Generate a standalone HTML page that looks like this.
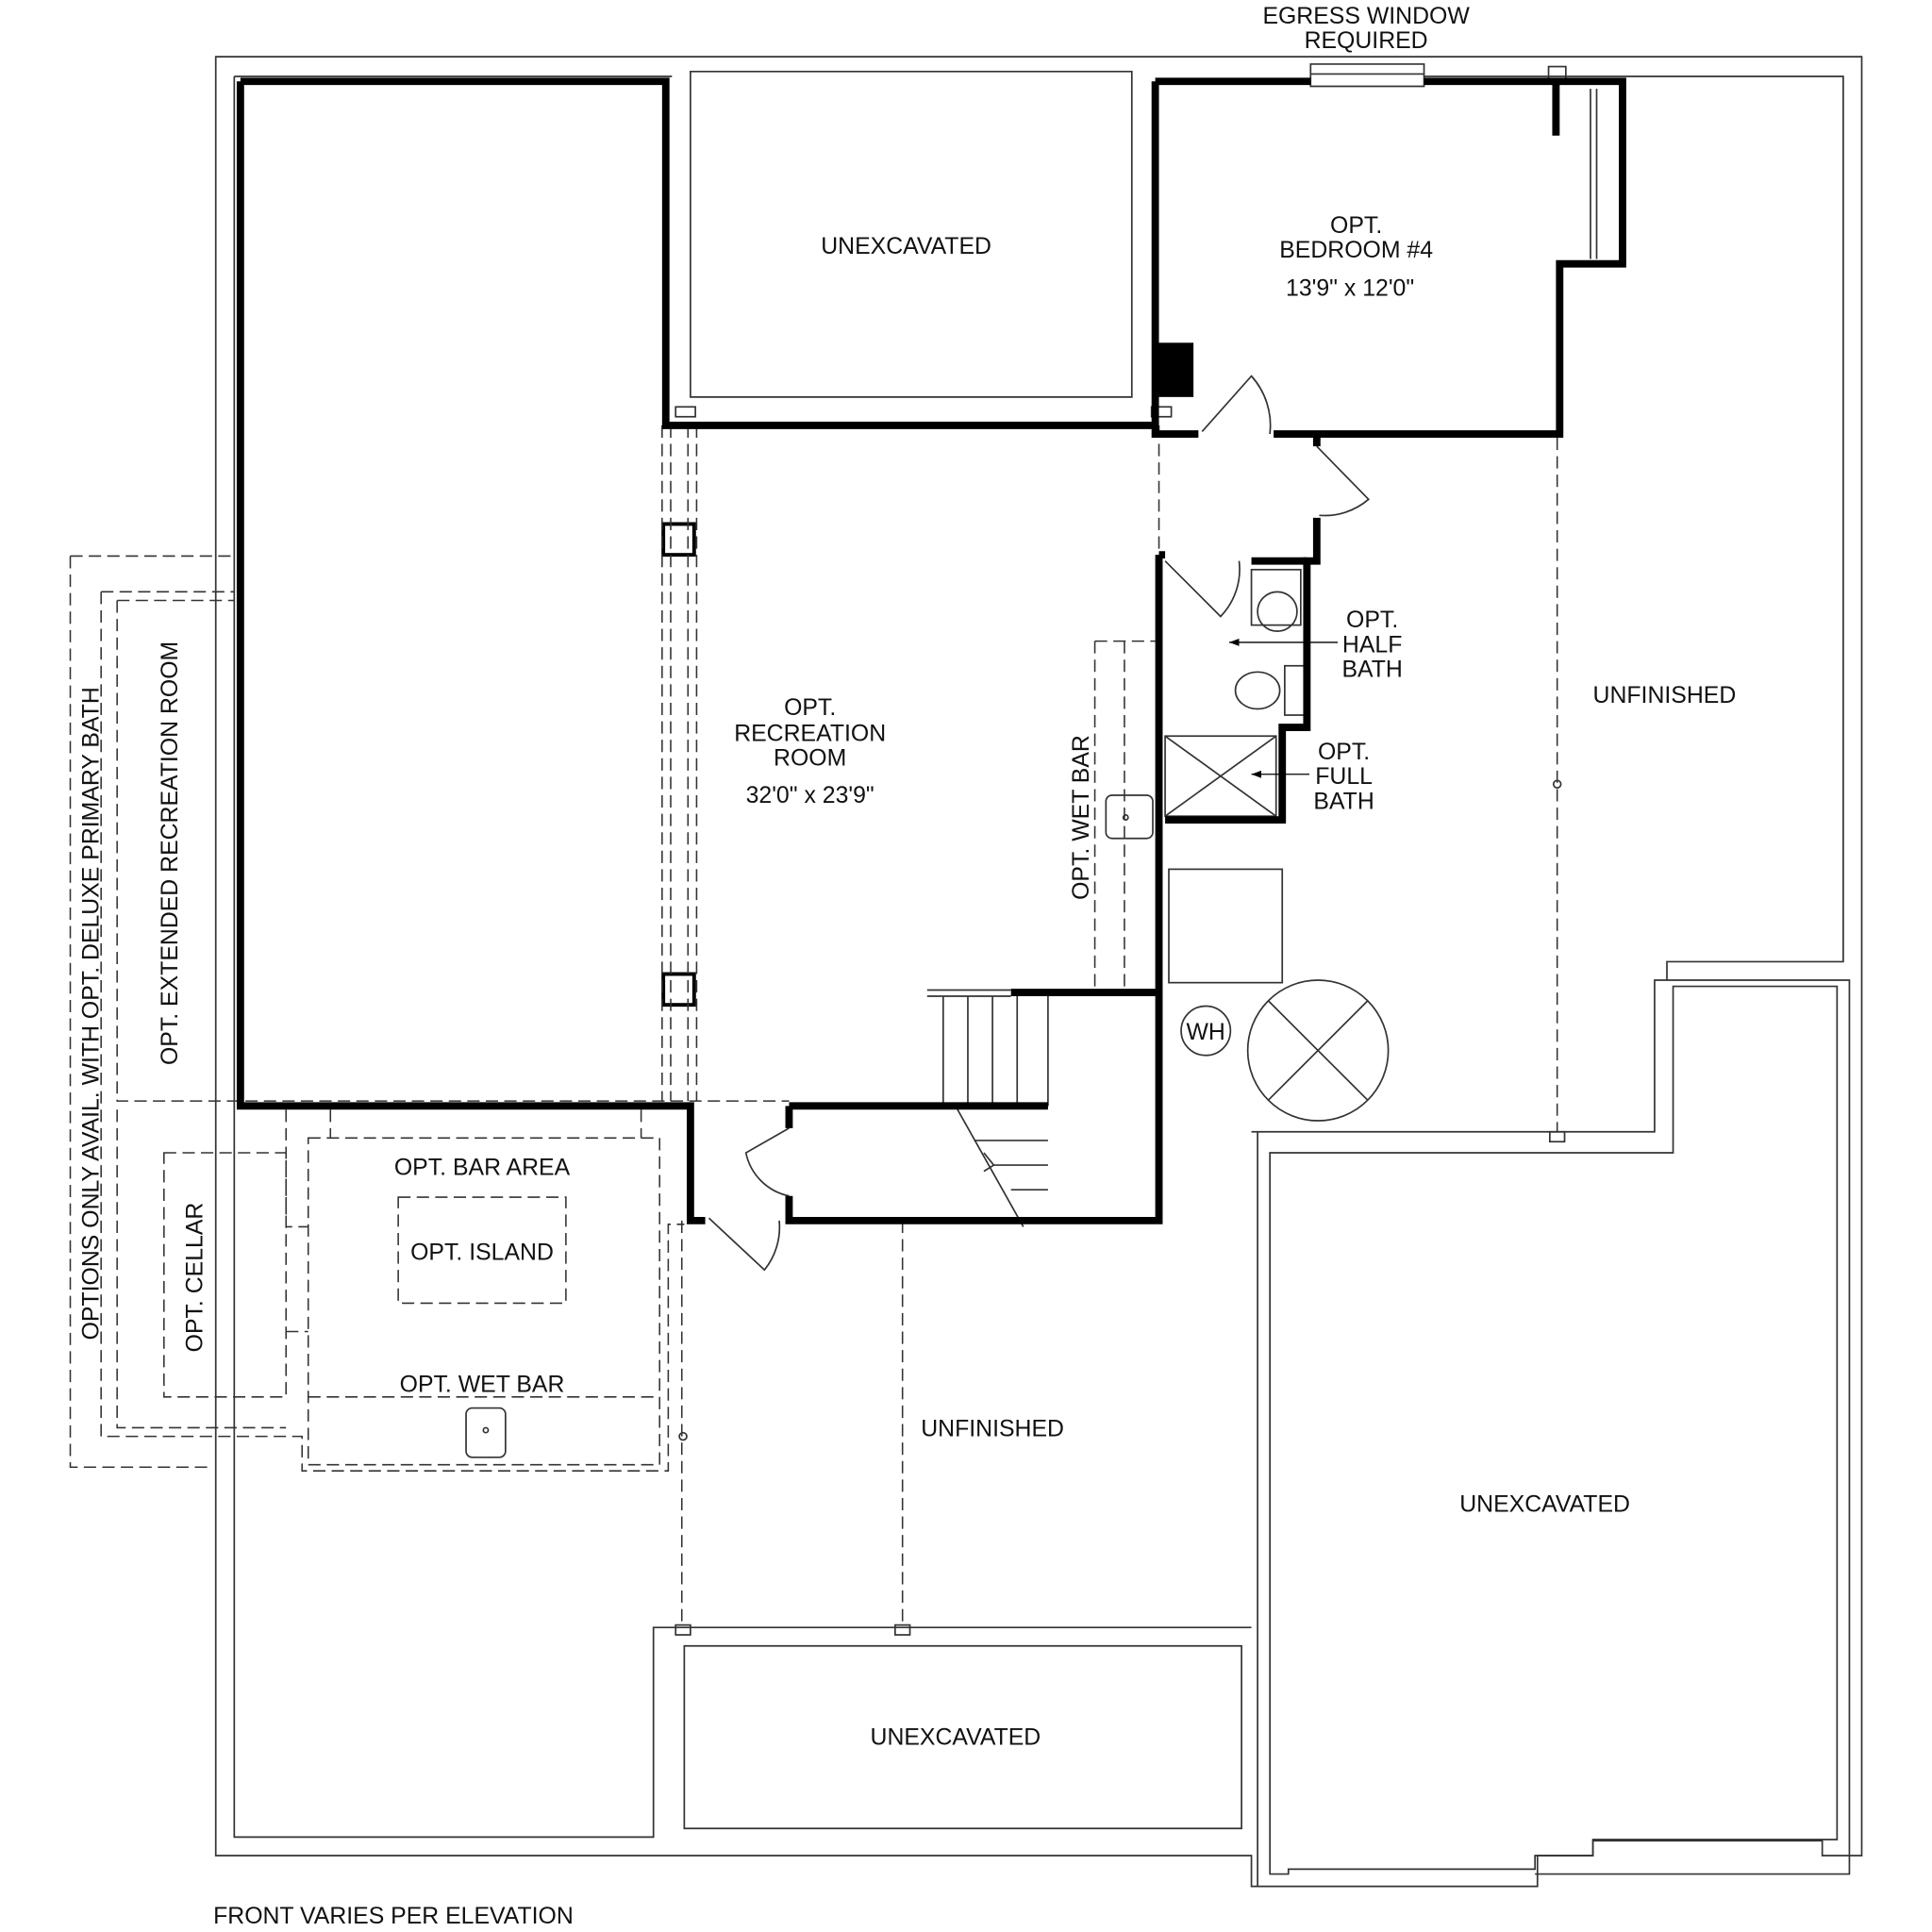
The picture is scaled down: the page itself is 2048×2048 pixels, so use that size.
<!DOCTYPE html>
<html><head><meta charset="utf-8"><style>html,body{margin:0;padding:0;background:#fff}svg{display:block}text{font-family:"Liberation Sans",sans-serif;fill:#111;font-size:19px}</style></head>
<body>
<svg width="2048" height="2048" viewBox="0 0 1567 1567" xmlns="http://www.w3.org/2000/svg">
<g fill="none" stroke="#333" stroke-width="1.3">
<path d="M175,46 H1510 V1505 H1478 V1493 H1292 V1505 H1247 V1530 H1015 V1505 H545 V1505 H175 Z"/>
<path d="M190,62 H545 M560,58 H918 V322 H560 Z M1155,62 H1495 V780 H1352 V795 M1495,62"/>
<path d="M190,62 V1490 H530 V1320 H1015 M555,1335 H1007 V1483 H555 Z"/>
<path d="M1015,918 H1342 V795 H1500 V1520 H1245 M1030,935 H1357 V800 H1490 V1492 H1292 V1505 H1245 V1516 H1045 V1520 H1030 Z"/>
<path d="M1020,918 V1530"/>
<path d="M1063,52 H1155 V70 H1063 Z M1063,60 H1155"/>
<rect x="1256" y="54" width="14" height="10"/>
<path d="M1295,72 V210 M1290,72 V210"/>
<rect x="538" y="425" width="25" height="25" stroke="#000" stroke-width="3"/>
<rect x="538" y="790" width="25" height="25" stroke="#000" stroke-width="3"/>
<rect x="548" y="330" width="16" height="8"/><rect x="934" y="330" width="16" height="8"/>
<rect x="548" y="1318" width="12" height="8"/><rect x="726" y="1318" width="12" height="8"/><rect x="1257" y="918" width="12" height="8"/>
<rect x="948" y="705" width="92" height="92"/>
<circle cx="978" cy="836" r="20"/>
<circle cx="1069" cy="852" r="57"/>
<path d="M1029,812 L1109,892 M1109,812 L1029,892"/>
<rect x="945" y="597" width="90" height="65"/>
<path d="M945,597 L1035,662 M1035,597 L945,662"/>
<rect x="1015" y="462" width="40" height="45"/><circle cx="1036" cy="496" r="16"/>
<ellipse cx="1020" cy="560" rx="18" ry="15"/><rect x="1042" y="540" width="16" height="40"/>
<path d="M752,803 H820 M752,808 H820 M765,808 V897 M785,808 V897 M805,808 V897 M825,808 V897 M850,808 V897 M775,897 L830,995 M790,925 H850 M805,945 H850 M820,965 H850"/>
<path d="M798,935 L806,945 L798,950"/>
<path d="M975,350 L1015,305 A60,60 0 0 1 1030,352"/>
<path d="M1068,362 L1110,405 A55,55 0 0 1 1070,418"/>
<path d="M945,455 L990,500 A55,55 0 0 0 1005,455"/>
<path d="M640,915 L605,935 A45,45 0 0 0 640,970"/>
<path d="M575,988 L620,1030 A55,55 0 0 0 632,990"/>
<rect x="897" y="645" width="38" height="35" rx="5"/><circle cx="913" cy="663" r="2"/>
<rect x="378" y="1142" width="32" height="40" rx="5"/><circle cx="394" cy="1160" r="2"/>
<circle cx="1263" cy="636" r="3"/><circle cx="554" cy="1165" r="3"/>
</g>
<g fill="none" stroke="#333" stroke-width="1.2" stroke-dasharray="10,5">
<path d="M57,451 H190 M57,451 V1190 H172"/>
<path d="M82,480 H190 M82,480 V1165 H245 V1193 H542 V993 H555"/>
<path d="M95,487 H190 M95,487 V893 H640 M95,900 V1158 H232"/>
<path d="M133,935 H232 V1133 H133 Z M232,900 V995 H250 M232,1080 H250"/>
<rect x="250" y="923" width="285" height="265"/><path d="M250,1133 H535 M268,900 V923 M520,900 V923"/>
<rect x="323" y="971" width="136" height="86"/>
<path d="M537,345 V893 M544,345 V893 M558,345 V893 M565,345 V893"/>
<path d="M888,520 H937 M888,520 V803 M912,520 V803 M940,345 V450"/>
<path d="M553,990 V1320 M732,990 V1320 M1263,355 V918"/>
</g>
<g fill="none" stroke="#000" stroke-width="6" stroke-linejoin="miter">
<path d="M195,66 H540 V345 H940 M195,66 V897 H560 V990 H572"/>
<path d="M937,66 H1063 M1155,66 H1316 V214 H1265 V352 H1033 M937,66 V352 H972"/>
<path d="M1262,66 V110 M940,450 V990 H640 V970 M640,897 H850 M640,897 V915 M820,805 H940"/>
<path d="M1068,355 V362 M1068,420 V455 H1060 V590 H1040 V665 H945 M940,450 H945"/>
<path d="M1015,455 H1060"/>
</g>
<rect x="937" y="278" width="31" height="44" fill="#000"/>
<text x="1108" y="19" text-anchor="middle">EGRESS WINDOW</text>
<text x="1108" y="39" text-anchor="middle">REQUIRED</text>
<text x="735" y="206" text-anchor="middle">UNEXCAVATED</text>
<text x="1100" y="189" text-anchor="middle">OPT.</text>
<text x="1100" y="209" text-anchor="middle">BEDROOM #4</text>
<text x="1095" y="240" text-anchor="middle">13'9" x 12'0"</text>
<text x="657" y="580" text-anchor="middle">OPT.</text>
<text x="657" y="601" text-anchor="middle">RECREATION</text>
<text x="657" y="621" text-anchor="middle">ROOM</text>
<text x="657" y="651" text-anchor="middle">32'0" x 23'9"</text>
<text x="1113" y="509" text-anchor="middle">OPT.</text>
<text x="1113" y="529" text-anchor="middle">HALF</text>
<text x="1113" y="549" text-anchor="middle">BATH</text>
<text x="1090" y="616" text-anchor="middle">OPT.</text>
<text x="1090" y="636" text-anchor="middle">FULL</text>
<text x="1090" y="656" text-anchor="middle">BATH</text>
<path d="M1085,521 H997 M1062,628 H1015" stroke="#000" stroke-width="1"/>
<path d="M997,521 l8,-3 v6 z M1015,628 l8,-3 v6 z" fill="#000"/>
<text x="1350" y="570" text-anchor="middle">UNFINISHED</text>
<text x="805" y="1165" text-anchor="middle">UNFINISHED</text>
<text x="1253" y="1226" text-anchor="middle">UNEXCAVATED</text>
<text x="775" y="1415" text-anchor="middle">UNEXCAVATED</text>
<text x="978" y="843" text-anchor="middle" font-size="17">WH</text>
<text x="391" y="953" text-anchor="middle">OPT. BAR AREA</text>
<text x="391" y="1022" text-anchor="middle">OPT. ISLAND</text>
<text x="391" y="1129" text-anchor="middle">OPT. WET BAR</text>
<text transform="translate(883,663) rotate(-90)" text-anchor="middle">OPT. WET BAR</text>
<text transform="translate(164,1036) rotate(-90)" text-anchor="middle">OPT. CELLAR</text>
<text transform="translate(144,692) rotate(-90)" text-anchor="middle">OPT. EXTENDED RECREATION ROOM</text>
<text transform="translate(80,822) rotate(-90)" text-anchor="middle">OPTIONS ONLY AVAIL. WITH OPT. DELUXE PRIMARY BATH</text>
<text x="173" y="1560">FRONT VARIES PER ELEVATION</text>
</svg>
</body></html>
